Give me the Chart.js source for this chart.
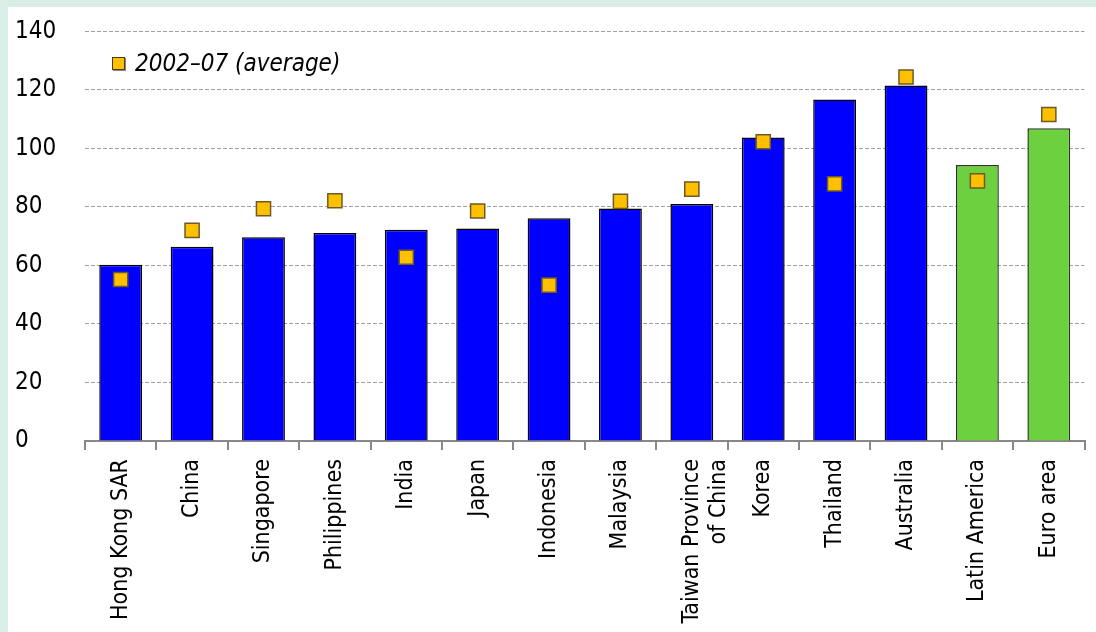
<!DOCTYPE html>
<html>
<head>
<meta charset="utf-8">
<script src="https://cdn.jsdelivr.net/npm/chart.js@4.4.1/dist/chart.umd.min.js"></script>
<style>
    html, body { margin: 0; padding: 0; background: #d9efe6; width: 1096px; height: 632px; overflow: hidden; }
    .panel { position: absolute; left: 8px; top: 7px; width: 1088px; height: 625px; background: #fff; overflow: hidden; }
    .legend { position: absolute; left: 104px; top: 42px; display: flex; align-items: center; gap: 10px;
        font-family: "Liberation Sans Narrow", "DejaVu Sans Condensed", sans-serif; font-style: italic; font-size: 24px; color: #000; }
    .legend .mark { width: 11px; height: 11px; background: #ffc000; border: 1px solid #4a3c10; box-shadow: 1px 1px 0 #888; }
</style>
</head>
<body>
<div class="panel">
    <canvas id="chart" width="1088" height="625"></canvas>
    <div class="legend"><span class="mark"></span><span>2002–07 (average)</span></div>
</div>
<script>
const categories = ['Hong Kong SAR', 'China', 'Singapore', 'Philippines', 'India', 'Japan', 'Indonesia',
    'Malaysia', ['Taiwan Province', 'of China'], 'Korea', 'Thailand', 'Australia', 'Latin America', 'Euro area'];
const currentValues = [60.2, 66.4, 69.6, 71.1, 72.2, 72.6, 76.1, 79.5, 81.0, 103.7, 116.7, 121.5, 94.3, 106.9];
const avgValues = [55.2, 72.0, 79.4, 82.1, 62.8, 78.6, 53.3, 81.9, 86.1, 102.3, 87.9, 124.4, 88.9, 111.6];
const yTicks = [0, 20, 40, 60, 80, 100, 120, 140];

const blue = '#0000ff';
const green = '#6dd13f';
const barColors = categories.map((c, i) => i >= 12 ? green : blue);
const barBorders = categories.map((c, i) => i >= 12 ? '#2a3a20' : '#000');

const font = "'Liberation Sans Narrow', 'DejaVu Sans Condensed', sans-serif";

new Chart(document.getElementById('chart'), {
    data: {
        labels: categories,
        datasets: [
            {
                type: 'line',
                label: '2002–07 (average)',
                data: avgValues,
                showLine: false,
                pointStyle: 'rect',
                pointRadius: 10,
                pointHoverRadius: 10,
                pointBackgroundColor: '#ffc000',
                pointBorderColor: '#6b5a2a',
                pointBorderWidth: 1.5,
                order: 0
            },
            {
                type: 'bar',
                label: 'Current',
                data: currentValues,
                backgroundColor: barColors,
                borderColor: barBorders,
                borderWidth: 1.5,
                categoryPercentage: 1,
                barPercentage: 0.6,
                order: 1
            }
        ]
    },
    options: {
        responsive: false,
        animation: false,
        layout: { padding: { left: 7, top: 12, right: 6, bottom: 0 } },
        plugins: { legend: { display: false }, tooltip: { enabled: false } },
        scales: {
            x: {
                offset: true,
                afterFit: (axis) => { axis.height = 191; },
                border: { display: true, color: '#888', width: 2 },
                grid: { offset: true, drawOnChartArea: false, drawTicks: true, tickLength: 9, color: '#888', lineWidth: 2 },
                ticks: { autoSkip: false, maxRotation: 90, minRotation: 90, padding: 9, color: '#000',
                    font: { family: font, size: 23 } }
            },
            y: {
                min: 0,
                max: 140,
                afterFit: (axis) => { axis.width = 70; },
                afterBuildTicks: (axis) => { axis.ticks = yTicks.map(v => ({ value: v })); },
                border: { display: false, dash: [4, 2] },
                grid: { color: '#a0a0a0', lineWidth: 1, drawTicks: false },
                ticks: { crossAlign: 'far', padding: 10, color: '#000', font: { family: font, size: 24 } }
            }
        }
    }
});
</script>
</body>
</html>
